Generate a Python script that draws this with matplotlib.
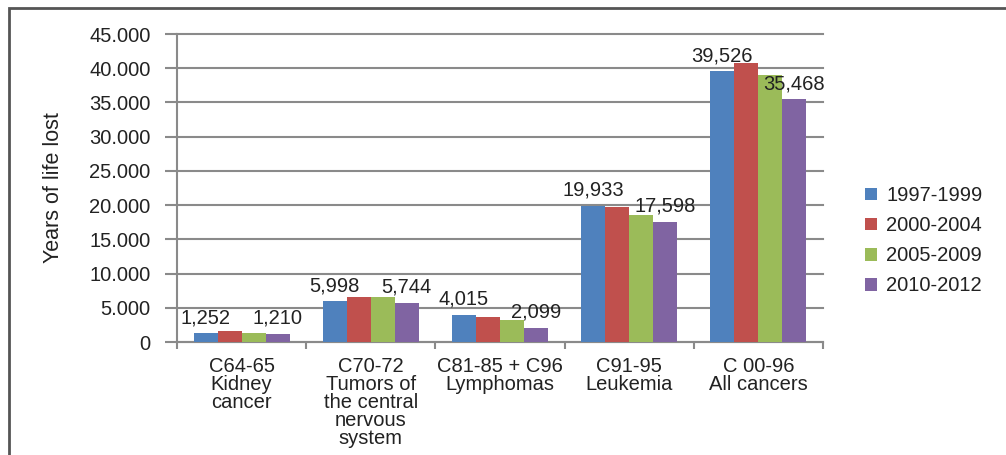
import matplotlib
matplotlib.use("Agg")
import matplotlib.pyplot as plt
from matplotlib.patches import Rectangle
from matplotlib.ticker import FuncFormatter, FixedLocator
import numpy as np

plt.rcParams['font.family'] = ['Liberation Sans', 'DejaVu Sans']

categories = [
    "C64-65\nKidney\ncancer",
    "C70-72\nTumors of\nthe central\nnervous\nsystem",
    "C81-85 + C96\nLymphomas",
    "C91-95\nLeukemia",
    "C 00-96\nAll cancers",
]
periods = ["1997-1999", "2000-2004", "2005-2009", "2010-2012"]
values_1997_1999 = [1252, 5998, 4015, 19933, 39526]
values_2000_2004 = [1600, 6620, 3650, 19700, 40700]
values_2005_2009 = [1360, 6640, 3200, 18500, 39000]
values_2010_2012 = [1210, 5744, 2099, 17598, 35468]
colors = ["#4F81BD", "#C0504D", "#9BBB59", "#8064A2"]

series = [values_1997_1999, values_2000_2004, values_2005_2009, values_2010_2012]
labelled = {0, 3}  # first and last period carry value labels

W, H = 1006, 455
fig = plt.figure(figsize=(W / 100, H / 100), dpi=100)
ax = fig.add_axes([177 / W, 1 - 342 / H, (823 - 177) / W, (342 - 34) / H])

text_color = "#222222"
grid_color = "#8a8a8a"
fs = 14.5

x = np.arange(len(categories))
bw = 0.186
offsets = (np.arange(4) - 1.5) * bw
for i, (vals, col, lab) in enumerate(zip(series, colors, periods)):
    bars = ax.bar(x + offsets[i], vals, width=bw, color=col, label=lab, zorder=3)
    if i in labelled:
        for b, v in zip(bars, vals):
            ax.annotate(f"{v:,}", (b.get_x() + b.get_width() / 2, v),
                        xytext=(0, 7), textcoords="offset points",
                        ha="center", va="baseline", fontsize=fs,
                        color=text_color, zorder=4)

ax.set_xlim(-0.5, len(categories) - 0.5)
ax.set_ylim(0, 45000)
ax.set_yticks(np.arange(0, 45001, 5000))
ax.yaxis.set_major_formatter(FuncFormatter(lambda v, p: f"{int(v):,}".replace(",", ".")))
ax.yaxis.grid(True, color=grid_color, linewidth=1.5, zorder=0)
for gl in ax.yaxis.get_gridlines():
    gl.set_clip_on(False)
ax.tick_params(axis="y", length=9, width=1.5, color=grid_color, pad=10,
               labelsize=fs, labelcolor=text_color)

ax.set_xticks(x)
ax.set_xticklabels(categories, fontsize=fs, color=text_color, linespacing=0.93)
ax.xaxis.set_minor_locator(FixedLocator(np.arange(-0.5, len(categories), 1.0)))
ax.tick_params(axis="x", which="major", length=0, pad=11)
ax.tick_params(axis="x", which="minor", length=5, width=1.5, color=grid_color)

for s in ("top", "right"):
    ax.spines[s].set_visible(False)
for s in ("left", "bottom"):
    ax.spines[s].set_color(grid_color)
    ax.spines[s].set_linewidth(1.5)

ax.set_ylabel("Years of life lost", fontsize=15.5, color=text_color, labelpad=18)

ax.legend(loc="upper left", bbox_to_anchor=(857 / W, 1 - 178 / H),
          bbox_transform=fig.transFigure, frameon=False, fontsize=fs,
          handlelength=0.6, handleheight=0.6, handletextpad=0.45,
          labelspacing=0.55, borderaxespad=0, labelcolor=text_color)

fig.patches.append(Rectangle((9 / W, -0.1), 1.2, 1 - 8 / H + 0.1,
                             transform=fig.transFigure, fill=False,
                             edgecolor="#555555", linewidth=2))

fig.savefig("out.png", dpi=100)
